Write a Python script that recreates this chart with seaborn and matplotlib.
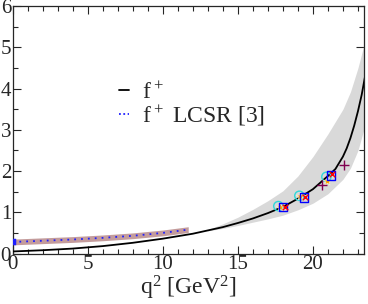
import pandas as pd
import matplotlib.pyplot as plt
import seaborn as sns

# f+ form factor fit
q2_fit = [0, 2, 4, 6, 8, 10, 12, 14, 15, 16, 17, 18, 19, 20, 21, 21.5, 22,
          22.25, 22.5, 22.75, 23, 23.25, 23.5]
f_fit = [0.05, 0.08, 0.12, 0.18, 0.26, 0.36, 0.48, 0.64, 0.74, 0.85, 0.98,
         1.13, 1.33, 1.56, 1.88, 2.05, 2.35, 2.55, 2.80, 3.10, 3.45, 3.85, 4.35]

# error band of the fit
q2_band = [13, 14, 15, 16, 17, 18, 19, 20, 21, 22, 22.5, 23, 23.5]
band_lo = [0.55, 0.61, 0.68, 0.76, 0.84, 0.93, 1.06, 1.22, 1.45, 1.80, 2.07, 2.50, 3.15]
band_hi = [0.58, 0.72, 0.88, 1.07, 1.28, 1.52, 1.88, 2.35, 2.90, 3.50, 3.92, 4.50, 5.20]

# LCSR [3]
q2_lcsr = [0, 2, 4, 6, 8, 10, 11.7]
f_lcsr = [0.28, 0.31, 0.34, 0.38, 0.43, 0.50, 0.58]
lcsr_err = 0.07

# lattice points
q2_circ = [17.7, 19.1, 20.9]
f_circ = [1.15, 1.40, 1.86]
q2_star = [17.8, 19.15, 20.95]
f_star = [1.14, 1.40, 1.75]
q2_sq = [18.0, 19.4, 21.2]
f_sq = [1.13, 1.36, 1.89]
q2_x = [18.15, 19.5, 21.25]
f_x = [1.13, 1.37, 1.92]
q2_plus = [20.6, 22.1]
f_plus = [1.66, 2.14]

sns.set_style('ticks')
plt.rcParams['font.family'] = ['Liberation Serif', 'DejaVu Serif']
plt.rcParams['mathtext.default'] = 'regular'

fig = plt.figure(figsize=(3.68, 3.04), dpi=100)
ax = fig.add_axes([0.034, 0.166, 0.955, 0.814])

ax.fill_between(q2_band, band_lo, band_hi, color='#d9d9d9', lw=0, zorder=1)
lo = [v - lcsr_err for v in f_lcsr]
hi = [v + lcsr_err for v in f_lcsr]
ax.fill_between(q2_lcsr, lo, hi, color='#c49c9c', lw=0, zorder=1)

fit = pd.DataFrame({'q2': q2_fit, 'f': f_fit})
sns.lineplot(data=fit, x='q2', y='f', color='black', lw=1.3, ax=ax,
             label=r'f$^+$', zorder=3)
lcsr = pd.DataFrame({'q2': q2_lcsr, 'f': f_lcsr})
sns.lineplot(data=lcsr, x='q2', y='f', color='#2020ff', lw=1.3,
             linestyle=(0, (1, 2.8)), ax=ax, label=r'f$^+$ LCSR [3]', zorder=3)
sns.scatterplot(x=[0], y=[f_lcsr[0]], marker='s', color='#2020ff', s=18,
                edgecolor='#2020ff', ax=ax, zorder=4)

sns.scatterplot(x=q2_circ, y=f_circ, marker='o', facecolor='none',
                edgecolor='#30d8d8', s=45, linewidth=1.0, ax=ax, zorder=4)
sns.scatterplot(x=q2_star, y=f_star, marker='*', color='#ffa500', s=40,
                linewidth=0.3, ax=ax, zorder=4)
sns.scatterplot(x=q2_sq, y=f_sq, marker='s', facecolor='none',
                edgecolor='#0000ff', s=36, linewidth=1.0, ax=ax, zorder=5)
sns.scatterplot(x=q2_x, y=f_x, marker='x', color='#ff0000', s=16,
                linewidth=1.0, ax=ax, zorder=5)
sns.scatterplot(x=q2_plus, y=f_plus, marker='+', color='#800050', s=55,
                linewidth=1.0, ax=ax, zorder=5)

ax.set_xlim(0, 23.4)
ax.set_ylim(0, 6)
ax.set_xticks([0, 5, 10, 15, 20])
ax.set_xticks(range(0, 24), minor=True)
ax.set_yticks(range(0, 7))
ax.set_yticks([0.5, 1.5, 2.5, 3.5, 4.5, 5.5], minor=True)
ax.tick_params(which='both', direction='in', top=True, right=True,
               labelsize=15, width=0.8, pad=1)
ax.tick_params(which='major', length=6)
ax.tick_params(which='minor', length=3.5)
for s in ax.spines.values():
    s.set_linewidth(0.9)
ax.set_xlabel(r'q$^2$ [GeV$^2$]', fontsize=17, labelpad=0)
ax.set_ylabel('')

leg = ax.legend(loc='upper left', bbox_to_anchor=(0.27, 0.74), frameon=False,
                fontsize=17, handlelength=0.4, handletextpad=0.55,
                labelspacing=0.0, borderpad=0)
# denser dots in the legend handle, as in the original
leg.get_lines()[1].set_linestyle((0, (1, 1.4)))

fig.savefig('out.png', dpi=100)
